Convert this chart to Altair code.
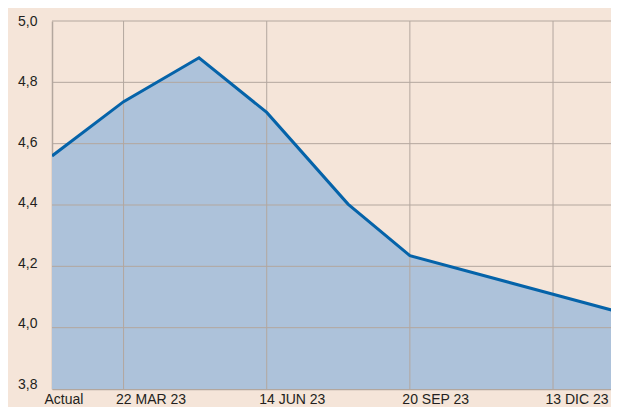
import altair as alt
import pandas as pd

# ---- data ----
period_pos = [0, 1, 2.054, 3, 4.136, 5, 7, 7.92]
rate = [4.56, 4.737, 4.88, 4.702, 4.403, 4.235, 4.109, 4.051]
tick_pos = [0, 1, 3, 5, 7]
tick_labels = ["Actual", "22 MAR 23", "14 JUN 23", "20 SEP 23", "13 DIC 23"]
y_ticks = [3.8, 4.0, 4.2, 4.4, 4.6, 4.8, 5.0]
x_domain = [0, 7.81]
y_domain = [3.8, 5.0]

BG = "#f5e5d9"
AREA = "#adc2da"
LINE = "#0563a9"
GRID = "#b3a79e"
TEXT = "#231f20"

df = pd.DataFrame({"pos": period_pos, "rate": rate})
vgrid = pd.DataFrame({"pos": tick_pos[1:]})
hgrid = pd.DataFrame({"rate": y_ticks[1:]})

label_expr = (
    "[" + ",".join(f"'{t}'" for t in tick_labels) + "]"
    + "[indexof([" + ",".join(str(p) for p in tick_pos) + "], datum.value)]"
)

xscale = alt.Scale(domain=x_domain, nice=False, zero=False)
yscale = alt.Scale(domain=y_domain, nice=False, zero=False)

xaxis = alt.Axis(
    values=tick_pos, labelExpr=label_expr, title=None, grid=False,
    ticks=False, tickSize=0, domain=True, domainColor=GRID, domainWidth=1.5,
    labelAlign="left", labelOffset=-8, labelPadding=14, labelBaseline="alphabetic",
    labelFlush=False, labelOverlap=False,
)
yaxis = alt.Axis(
    values=y_ticks, labelExpr="replace(format(datum.value, '.1f'), '.', ',')",
    title=None, grid=False, ticks=False, tickSize=0, domain=True,
    domainColor=GRID, domainWidth=1.5, labelPadding=15,
    labelOffset={"expr": "(datum.value - 5) * 4"},
    labelFlush=False, labelOverlap=False,
)

x_enc = alt.X("pos:Q", scale=xscale, axis=xaxis)
y_enc = alt.Y("rate:Q", scale=yscale, axis=yaxis)

area = alt.Chart(df).mark_area(color=AREA, opacity=1, clip=True).encode(
    x=x_enc, y=y_enc, y2=alt.datum(3.8)
)
vrules = alt.Chart(vgrid).mark_rule(color=GRID, strokeWidth=1).encode(x=x_enc)
hrules = alt.Chart(hgrid).mark_rule(color=GRID, strokeWidth=1).encode(y=y_enc)
line = alt.Chart(df).mark_line(color=LINE, strokeWidth=3, clip=True).encode(
    x=x_enc, y=y_enc
)

page_css = "body{background:#f5e5d9;}"

chart = (
    alt.layer(area, vrules, hrules, line)
    .properties(
        width=559,
        height=368,
        autosize=alt.AutoSizeParams(type="none"),
        padding={"left": 44, "top": 13, "right": 0, "bottom": 18},
        background=BG,
        usermeta={"embedOptions": {"defaultStyle": page_css}},
    )
    .configure_view(stroke=None)
    .configure_axis(labelFont="Liberation Sans", labelFontSize=14, labelColor=TEXT)
)

chart.save("out.html", embed_options={"renderer": "svg", "actions": False})
